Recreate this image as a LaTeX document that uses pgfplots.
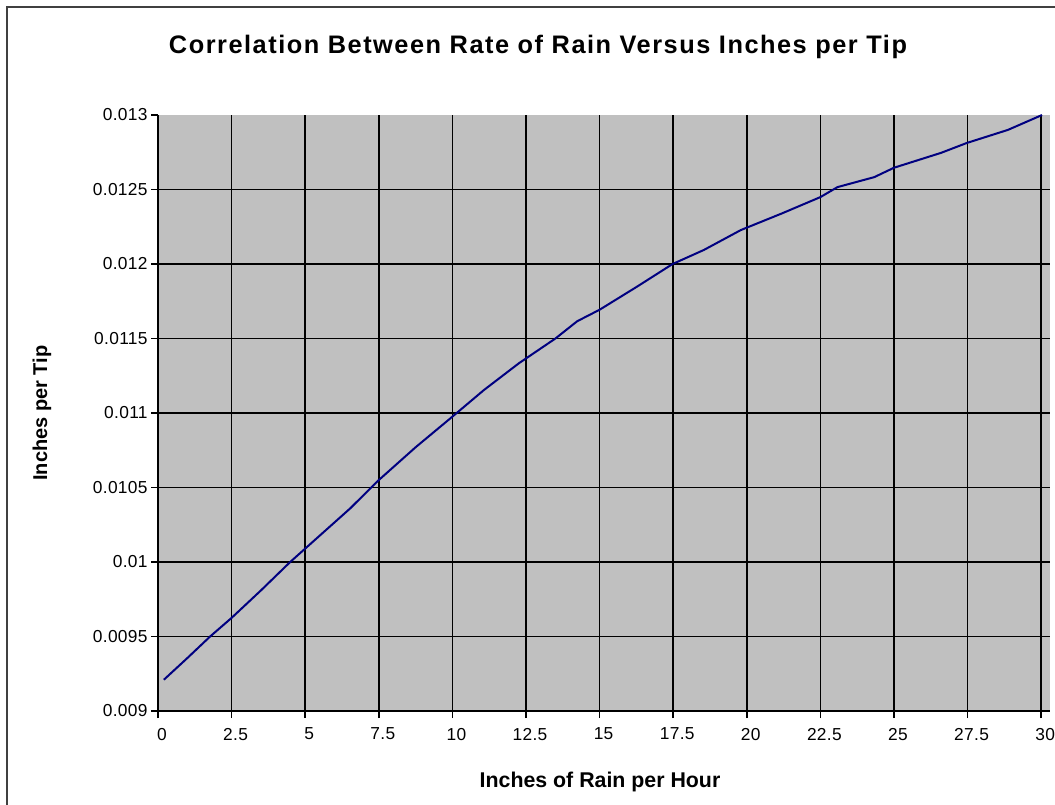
\documentclass[border=0pt]{standalone}
\usepackage{pgfplots}
\pgfplotsset{compat=1.18}
\usepackage{fontspec}
\setmainfont{Liberation Sans}
\definecolor{plotgray}{RGB}{192,192,192}
\definecolor{linenavy}{RGB}{0,0,128}
\begin{document}
\begin{tikzpicture}[x=0.75pt,y=0.75pt]
\useasboundingbox (0,0) rectangle (1055,804);
\draw[black!75, line width=1.5pt] (7,-5) -- (7,797) -- (1060,797);
\begin{axis}[
  at={(118.5pt,69.75pt)}, anchor=south west,
  scale only axis, width=669pt, height=447pt,
  xmin=0, xmax=30.3, ymin=0.009, ymax=0.013,
  scaled y ticks=false, scaled x ticks=false,
  axis background/.style={fill=plotgray},
  axis lines*=left,
  axis line style={black, line width=1.2pt},
  xtick={0,2.5,...,30},
  xticklabels={0,2.5,5,7.5,10,12.5,15,17.5,20,22.5,25,27.5,30},
  ytick={0.009,0.0095,0.01,0.0105,0.011,0.0115,0.012,0.0125},
  yticklabels={0.009,0.0095,0.01,0.0105,0.011,0.0115,0.012,0.0125},
  extra y ticks={0.013}, extra y tick labels={0.013},
  extra y tick style={grid=none},
  grid=major,
  major grid style={black, line width=1.1pt},
  tick align=outside, major tick length=5.25pt,
  tick style={black, line width=1.1pt},
  ticklabel style={font=\fontsize{13}{15}\selectfont\addfontfeatures{LetterSpace=2}},
  xticklabel style={xshift=3pt, yshift=-4pt},
  yticklabel style={xshift=1pt},
  clip=false,
]
\addplot[linenavy, line width=1.5pt] coordinates {
(0.2,0.00921) (1.0,0.009356) (1.77,0.0095) (2.5,0.009625) (3.5,0.00981)
(4.49,0.01) (5.0,0.01009) (6.53,0.01036) (7.5,0.01055) (8.75,0.01077)
(9.93,0.010964) (11.07,0.011154) (12.26,0.011334) (13.5,0.0115)
(14.24,0.011616) (15,0.011693) (16.28,0.011849) (17.48,0.012)
(18.54,0.012094) (19.8,0.012228) (21.2,0.01234) (22.5,0.012449)
(23.08,0.012516) (24.33,0.012583) (25.0,0.012646) (26.6,0.012746)
(27.47,0.012812) (28.87,0.0129) (30.03,0.013)
};
\end{axis}
\node[anchor=base, font=\bfseries\fontsize{19}{21}\selectfont] at (538,750) {\addfontfeatures{LetterSpace=6}Correlation Between Rate of Rain Versus Inches per Tip};
\node[anchor=base, font=\bfseries\fontsize{16}{18}\selectfont] at (600,17) {Inches of Rain per Hour};
\node[anchor=base, rotate=90, font=\bfseries\fontsize{15}{17}\selectfont] at (47,391) {Inches per Tip};
\end{tikzpicture}
\end{document}
